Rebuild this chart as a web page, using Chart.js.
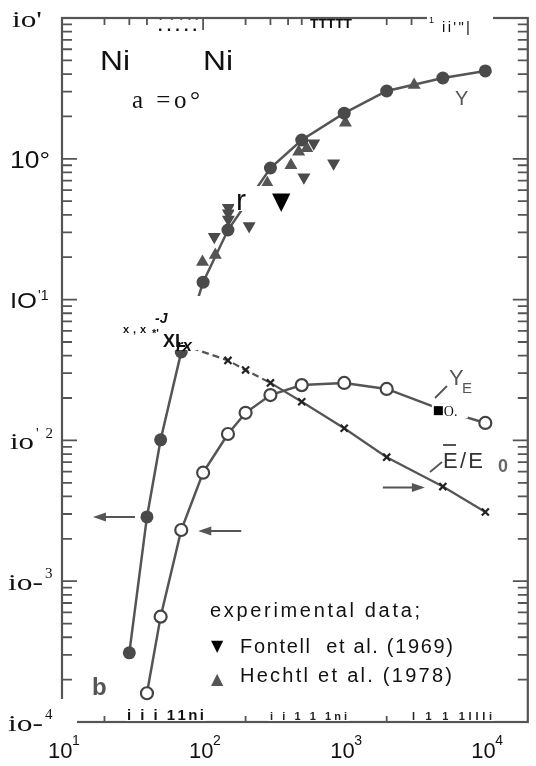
<!DOCTYPE html>
<html>
<head>
<meta charset="utf-8">
<title>Ni on Ni, sputtering yield</title>
<script src="https://cdn.jsdelivr.net/npm/chart.js@4"></script>
<style>
  html, body { margin: 0; padding: 0; background: #fff; }
  #wrap { width: 536px; height: 766px; }
</style>
</head>
<body>
<div id="wrap"><canvas id="yieldChart" width="536" height="766"></canvas></div>
<script>
// incident energy in eV, calculated curves
const energyY = [30, 40, 50, 70, 100, 150, 300, 500, 1000, 2000, 5000, 10000];
const yieldY = [3.1e-4, 2.86e-3, 1.01e-2, 0.0425, 0.133, 0.312, 0.86, 1.36, 2.11, 3.03, 3.75, 4.21];

const energyYE = [40, 50, 70, 100, 150, 200, 300, 500, 1000, 2000, 5000, 10000];
const yieldYE = [1.6e-4, 5.6e-4, 2.31e-3, 5.9e-3, 0.0111, 0.0157, 0.021, 0.0247, 0.0256, 0.0232, 0.0164, 0.0133];

const energyEE = [30, 40, 50, 70, 150, 200, 300, 500, 1000, 2000, 5000, 10000];
const ratioEE = [0.061, 0.061, 0.056, 0.048, 0.037, 0.0316, 0.0256, 0.0188, 0.0122, 0.0076, 0.0047, 0.0031];

// experimental data
const fontellE = [120, 151, 151, 151, 212, 518, 608, 841];
const fontellY = [0.279, 0.45, 0.41, 0.37, 0.333, 0.74, 1.29, 0.93];
const hechtlE = [99, 122, 285, 419, 476, 543, 1020, 3130];
const hechtlY = [0.185, 0.207, 0.67, 0.90, 1.12, 1.19, 1.8, 3.34];

// axis labels
const xTickValues = [10, 100, 1000, 10000];
const xTickExp = ['1', '2', '3', '4'];
const yTickValues = [10, 1, 0.1, 0.01, 0.001, 0.0001];
const yTickLabels = [["io'", ''], ['10°', ''], ['IO', "'1"], ['io', "'2"], ['io-', '3'], ['io-', '4']];

const pts = (xs, ys) => xs.map((x, i) => ({ x: x, y: ys[i] }));

const SANS = '"Liberation Sans", Arial, sans-serif';
const SERIF = '"Liberation Serif", "Times New Roman", serif';

function px(chart, v) { return chart.scales.x.getPixelForValue(v); }
function py(chart, v) { return chart.scales.y.getPixelForValue(v); }

// spread the glyphs of str so the run is w pixels wide
function spaced(ctx, str, x, y, w) {
  const chars = [...str];
  const widths = chars.map(c => ctx.measureText(c).width);
  const total = widths.reduce((a, b) => a + b, 0);
  const gap = chars.length > 1 ? (w - total) / (chars.length - 1) : 0;
  let cx = x;
  chars.forEach((c, i) => { ctx.fillText(c, cx, y); cx += widths[i] + gap; });
}

// squeeze or widen str horizontally to w pixels
function stretched(ctx, str, x, y, w) {
  const s = w / ctx.measureText(str).width;
  ctx.save();
  ctx.translate(x, y);
  ctx.scale(s, 1);
  ctx.fillText(str, 0, 0);
  ctx.restore();
}

function box(ctx, x, y, w, h) {
  ctx.fillStyle = '#fff';
  ctx.fillRect(x, y, w, h);
}

function text(ctx, str, x, y, font, color, w, mode) {
  ctx.font = font;
  ctx.fillStyle = color || '#111';
  if (w && mode === 's') stretched(ctx, str, x, y, w);
  else if (w) spaced(ctx, str, x, y, w);
  else ctx.fillText(str, x, y);
}

function arrow(ctx, x0, y0, x1, y1) {
  const dir = Math.sign(x1 - x0);
  ctx.strokeStyle = '#555';
  ctx.fillStyle = '#555';
  ctx.lineWidth = 2;
  ctx.beginPath();
  ctx.moveTo(x0, y0);
  ctx.lineTo(x1 - dir * 8, y1);
  ctx.stroke();
  ctx.beginPath();
  ctx.moveTo(x1, y1);
  ctx.lineTo(x1 - dir * 13, y1 - 4.5);
  ctx.lineTo(x1 - dir * 13, y1 + 4.5);
  ctx.closePath();
  ctx.fill();
}

function drawFrame(chart) {
  const ctx = chart.ctx, a = chart.chartArea;
  ctx.save();
  ctx.strokeStyle = '#555';
  ctx.lineWidth = 2.2;
  ctx.strokeRect(a.left, a.top, a.right - a.left, a.bottom - a.top);
  ctx.lineWidth = 1.8;
  ctx.beginPath();
  for (let d = 1; d <= 4; d++) {
    for (let m = 1; m <= 9; m++) {
      const v = m * Math.pow(10, d);
      if (v === 10 || v >= 2e4) continue;
      const x = px(chart, v), major = m === 1;
      ctx.moveTo(x, a.top); ctx.lineTo(x, a.top + (major ? 12 : 7));
      ctx.moveTo(x, a.bottom); ctx.lineTo(x, a.bottom - (major ? 8 : 6));
    }
  }
  for (let d = -4; d <= 0; d++) {
    for (let m = 1; m <= 9; m++) {
      const v = m * Math.pow(10, d);
      if (m === 1 && d === -4) continue;
      const y = py(chart, v), major = m === 1;
      ctx.moveTo(a.left, y); ctx.lineTo(a.left + (major ? 15 : 10), y);
      ctx.moveTo(a.right, y); ctx.lineTo(a.right - (major ? 15 : 10), y);
    }
  }
  ctx.stroke();
  ctx.restore();
}

function drawNotes(chart) {
  const ctx = chart.ctx, a = chart.chartArea;
  ctx.save();
  ctx.textBaseline = 'alphabetic';

  // patches over the frame with their scanned captions
  box(ctx, 0, 699, a.left + 15, 40);
  box(ctx, 155, a.top + 2, 46, 14);
  text(ctx, '.....', 158, 31, 'bold 16px ' + SANS, '#111', 39);
  box(ctx, 307, a.top + 2, 47, 12);
  text(ctx, 'TTTTT', 310, 28, 'bold 12px ' + SANS, '#111', 42, 's');
  box(ctx, 427, 10, 66, 24);
  text(ctx, '1', 429, 23, '9px ' + SANS, '#111');
  text(ctx, 'ii\'"|', 442, 32, '15px ' + SANS, '#111', 28);
  box(ctx, 125, a.bottom - 18, 82, 17);
  text(ctx, 'i i i 11ni', 127, a.bottom - 2, 'bold 15px ' + SANS, '#111', 77);
  box(ctx, 268, a.bottom - 16, 81, 15);
  text(ctx, 'i i 1 1 1ni', 270, a.bottom - 2, 'bold 11px ' + SANS, '#222', 77);
  box(ctx, 410, a.bottom - 16, 85, 15);
  text(ctx, 'l 1 1 1IIIi', 412, a.bottom - 2, 'bold 11px ' + SANS, '#222', 80);

  // y tick labels
  yTickValues.forEach((v, i) => {
    const y = py(chart, v);
    const lab = yTickLabels[i];
    if (i === 0) text(ctx, lab[0], 12, y + 9, '24px ' + SERIF, '#111', 30, 's');
    else if (i === 1) text(ctx, lab[0], 10, y + 9, '23px ' + SANS, '#111', 40, 's');
    else if (i === 2) {
      text(ctx, lab[0], 10, y + 8, '22px ' + SANS, '#111', 27, 's');
      text(ctx, lab[1], 38, y, '14px ' + SANS, '#111');
    } else if (i === 3) {
      text(ctx, lab[0], 10, y + 9, '24px ' + SERIF, '#111', 24, 's');
      text(ctx, lab[1], 36, y - 2, '15px ' + SERIF, '#111', 17);
    } else {
      text(ctx, lab[0], 8, y + 9, '24px ' + SERIF, '#111', 35, 's');
      text(ctx, lab[1], 45, y - 3, '15px ' + SERIF, '#111');
    }
  });

  // x tick labels
  xTickValues.forEach((v, i) => {
    const x = px(chart, v);
    text(ctx, '10', x - 14, 758, '22px ' + SANS, '#111');
    text(ctx, xTickExp[i], x + 10, 745, '14px ' + SANS, '#111');
  });

  // leftovers of the scan over the low-energy points
  box(ctx, 120, 296, 86, 54);
  text(ctx, 'x', 123, 333, 'bold 11px ' + SANS, '#111');
  text(ctx, ',', 133, 333, 'bold 11px ' + SANS, '#111');
  text(ctx, 'x', 140, 333, 'bold 11px ' + SANS, '#111');
  text(ctx, "*'", 152, 337, 'bold 11px ' + SANS, '#111');
  text(ctx, '-J', 155, 323, 'bold italic 14px ' + SANS, '#111');
  text(ctx, 'XL', 163, 347, 'bold 18px ' + SANS, '#111');
  text(ctx, 'rx', 176, 351, 'bold italic 17px ' + SANS, '#111');

  box(ctx, 234, 186, 62, 25);
  text(ctx, 'r', 236, 210, '30px ' + SANS, '#111');
  text(ctx, '▼', 272, 209, '24px "DejaVu Sans", sans-serif', '#000');

  // Y_E point at 5 keV came out as a caption
  const q = { x: px(chart, energyYE[10]), y: py(chart, yieldYE[10]) };
  box(ctx, q.x - 11, q.y - 7, 36, 15);
  ctx.fillStyle = '#000';
  ctx.fillRect(q.x - 9, q.y - 4, 9, 9);
  text(ctx, 'O.', q.x + 1, q.y + 6, '14px ' + SERIF, '#111');

  // panel labels
  text(ctx, 'Ni', 100, 70, '28px ' + SANS, '#111', 30, 's');
  text(ctx, 'Ni', 203, 70, '28px ' + SANS, '#111', 30, 's');
  text(ctx, 'a =o°', 132, 108, '25px ' + SERIF, '#111', 68);
  text(ctx, 'b', 92, 695, 'bold 24px ' + SANS, '#555');

  // curve labels
  text(ctx, 'Y', 455, 105, '20px ' + SANS, '#555');
  text(ctx, 'Y', 449, 385, '22px ' + SANS, '#555');
  text(ctx, 'E', 462, 393, '15px ' + SANS, '#555');
  text(ctx, 'E/E', 443, 468, '22px ' + SANS, '#333', 40);
  text(ctx, '0', 498, 472, 'bold 18px ' + SANS, '#666');
  ctx.strokeStyle = '#555';
  ctx.lineWidth = 1.8;
  ctx.beginPath();
  ctx.moveTo(443, 445); ctx.lineTo(456, 445);
  ctx.moveTo(435, 398); ctx.lineTo(447, 386);
  ctx.moveTo(430, 472); ctx.lineTo(442, 462);
  ctx.stroke();

  // arrows to the marked points
  const pY = { x: px(chart, energyY[1]), y: py(chart, yieldY[1]) };
  arrow(ctx, pY.x - 12, pY.y, pY.x - 54, pY.y);
  const pYE = { x: px(chart, energyYE[2]), y: py(chart, yieldYE[2]) };
  arrow(ctx, pYE.x + 60, pYE.y + 1, pYE.x + 17, pYE.y + 1);
  const pEE = { x: px(chart, energyEE[10]), y: py(chart, ratioEE[10]) };
  arrow(ctx, pEE.x - 60, pEE.y + 1, pEE.x - 18, pEE.y + 1);

  // legend for the experiments
  text(ctx, 'experimental data;', 210, 617, '20px ' + SANS, '#111', 210);
  text(ctx, '▼', 211, 651, '16px "DejaVu Sans", sans-serif', '#000');
  text(ctx, 'Fontell  et al. (1969)', 240, 653, '20px ' + SANS, '#111', 213);
  text(ctx, '▲', 211, 684, '16px "DejaVu Sans", sans-serif', '#555');
  text(ctx, 'Hechtl et al. (1978)', 240, 682, '20px ' + SANS, '#111', 212);

  ctx.restore();
}

const sheet = {
  id: 'sheet',
  beforeDatasetsDraw(chart) { drawFrame(chart); },
  afterDatasetsDraw(chart) { drawNotes(chart); }
};

new Chart(document.getElementById('yieldChart').getContext('2d'), {
  type: 'scatter',
  data: {
    datasets: [{
      label: 'Y',
      data: pts(energyY, yieldY),
      showLine: true,
      borderColor: '#555',
      borderWidth: 2.5,
      pointRadius: 6.5,
      pointBackgroundColor: '#4a4a4a',
      pointBorderWidth: 0
    }, {
      label: 'Y_E',
      data: pts(energyYE, yieldYE),
      showLine: true,
      borderColor: '#555',
      borderWidth: 2.5,
      pointRadius: 6,
      pointBackgroundColor: '#fff',
      pointBorderColor: '#444',
      pointBorderWidth: 2.2
    }, {
      label: 'E/E',
      data: pts(energyEE, ratioEE),
      showLine: true,
      borderColor: '#555',
      borderWidth: 2.2,
      segment: {
        borderDash: c => (c.p1.parsed.x <= 300 ? [7, 4] : undefined)
      },
      pointStyle: 'crossRot',
      pointRadius: 5,
      pointBorderColor: '#222',
      pointBorderWidth: 2.2
    }, {
      label: 'Fontell et al. (1969)',
      data: pts(fontellE, fontellY),
      pointStyle: 'triangle',
      rotation: 180,
      pointRadius: 7.5,
      pointBackgroundColor: '#4a4a4a',
      pointBorderWidth: 0
    }, {
      label: 'Hechtl et al. (1978)',
      data: pts(hechtlE, hechtlY),
      pointStyle: 'triangle',
      pointRadius: 7.5,
      pointBackgroundColor: '#555',
      pointBorderWidth: 0
    }]
  },
  options: {
    responsive: false,
    devicePixelRatio: 1,
    animation: false,
    events: [],
    layout: { padding: { left: 62, top: 18, right: 5, bottom: 44 } },
    scales: {
      x: { type: 'logarithmic', min: 10, max: 20000, display: false },
      y: { type: 'logarithmic', min: 1e-4, max: 10, display: false }
    },
    plugins: {
      legend: { display: false },
      tooltip: { enabled: false }
    }
  },
  plugins: [sheet]
});
</script>
</body>
</html>
